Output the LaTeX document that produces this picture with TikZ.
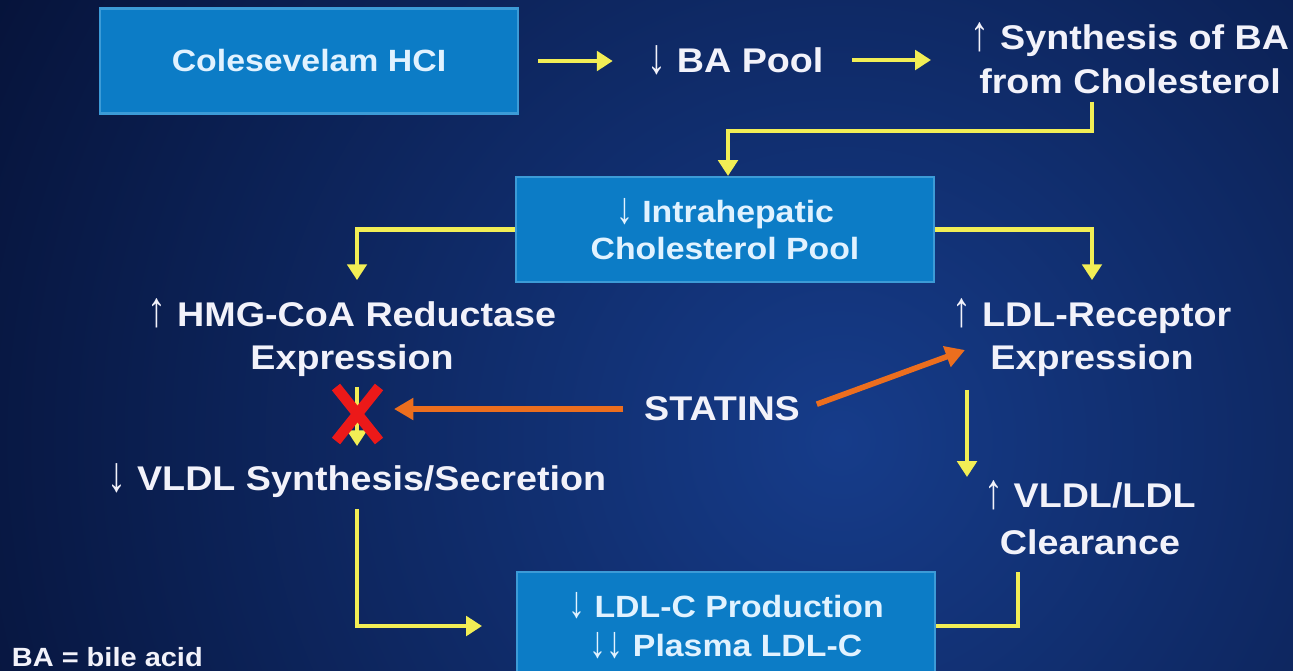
\documentclass[tikz,border=0pt]{standalone}
\usepackage{fontspec}
\setmainfont{Liberation Sans}[FakeStretch=1.1]
\usetikzlibrary{arrows.meta,calc}
\newcommand\uarr{{\mdseries\raisebox{-0.5pt}{\scalebox{1}[1.45]{↑}}}}
\newcommand\darr{{\mdseries\raisebox{-0.5pt}{\scalebox{1}[1.45]{↓}}}}
\definecolor{bg}{RGB}{3,11,42}
\definecolor{glow}{RGB}{22,60,138}
\definecolor{boxblue}{RGB}{12,124,198}
\definecolor{boxedge}{RGB}{60,155,215}
\definecolor{boxtext}{RGB}{225,242,255}
\definecolor{lbltext}{RGB}{242,242,250}
\definecolor{yel}{RGB}{242,238,85}
\definecolor{org}{RGB}{236,110,30}
\definecolor{xred}{RGB}{236,25,25}
\tikzset{
  box/.style={fill=boxblue, draw=boxedge, line width=1.2pt, text=boxtext,
    font=\bfseries\fontsize{17.5}{21}\selectfont, align=center,
    minimum width=8.36cm, minimum height=2.04cm, inner sep=0pt},
  lbl/.style={text=lbltext, font=\bfseries\fontsize{19.5}{25}\selectfont,
    align=center, inner sep=2pt},
  ya/.style={draw=yel, line width=2.8pt, -{Triangle[width=11pt,length=9pt]}},
  yl/.style={draw=yel, line width=2.8pt},
  oa/.style={draw=org, line width=3.2pt, -{Triangle[width=12pt,length=11pt]}},
  xm/.style={draw=xred, line width=6pt},
}
\begin{document}
\begin{tikzpicture}[x=0.02cm, y=-0.02cm]
\useasboundingbox (0,0) rectangle (1293,670);
\fill[bg] (0,0) rectangle (1293,670);
\begin{scope}
  \clip (0,0) rectangle (1293,670);
  \shade[inner color=glow, outer color=bg] (840,440) circle (1150);
\end{scope}

% boxes
\node[box, minimum height=2.1cm] (cole) at (309,61) {Colesevelam HCI};
\node[box, minimum height=2.1cm] (box2) at (725,229.5) {\darr\ Intrahepatic\\Cholesterol Pool};
\node[box, minimum height=2.16cm, font=\bfseries\fontsize{17.5}{22.7}\selectfont] (box3) at (726,626) {\darr\ LDL-C Production\\\darr\darr\ Plasma LDL-C};

% labels
\node[lbl] (bapool) at (735.5,60) {\darr\ BA Pool};
\node[lbl] (synth) at (1130,58) {\uarr\ Synthesis of BA\\from Cholesterol};
\node[lbl] (hmg) at (352,338) {\uarr\ HMG-CoA Reductase\\Expression};
\node[lbl] (ldlr) at (1092,338) {\uarr\ LDL-Receptor\\Expression};
\node[lbl] (statins) at (722,409) {STATINS};
\node[lbl] (vldl) at (357,481) {\darr\ VLDL Synthesis/Secretion};
\node[lbl, font=\bfseries\fontsize{19.5}{26.7}\selectfont] (clear) at (1090,518) {\uarr\ VLDL/LDL\\Clearance};
\node[lbl, font=\bfseries\fontsize{15}{18}\selectfont, anchor=west] (ba) at (8,657) {BA = bile acid};

\coordinate (xmark) at (357,414);
\coordinate (xtip) at (394,409);
\coordinate (ldltip) at (965,350);

% yellow connectors
\draw[ya, shorten <=0.38cm, shorten >=0.62cm] (cole.east) -- (cole.east -| bapool.west);
\draw[ya, shorten <=0.5cm, shorten >=0.72cm] (bapool.east) -- (bapool.east -| synth.west);
\draw[ya] ($(synth.south)+(-38,4)$) |- ($(box2.north)+(3,-45)$) -- ($(box2.north)+(3,0)$);
\draw[ya, shorten >=0.3cm] (box2.west) -| (xmark |- hmg.north);
\draw[ya, shorten >=0.3cm] (box2.east) -| (ldlr.north);
\draw[ya, shorten <=0.12cm, shorten >=0.28cm] (hmg.south -| xmark) -- (vldl.north -| xmark);
\draw[ya, shorten <=0.18cm] ($(ldlr.south)+(-125,0)$) -- ($(clear.north)+(-123,0)$);
\draw[ya, shorten <=0.14cm, shorten >=0.68cm] (vldl.south -| xmark) |- (box3.west);
\draw[yl, shorten <=0.26cm] ($(clear.south)+(-72,0)$) |- (box3.east);

% red cross
\draw[xm] ($(xmark)+(-21,-27)$) -- ($(xmark)+(22,27)$);
\draw[xm] ($(xmark)+(22,-27)$) -- ($(xmark)+(-21,27)$);

% orange arrows
\draw[oa, shorten <=0.34cm] (statins.west) -- (xtip);
\draw[oa, shorten <=0.28cm] (statins.east) -- (ldltip);
\end{tikzpicture}
\end{document}
